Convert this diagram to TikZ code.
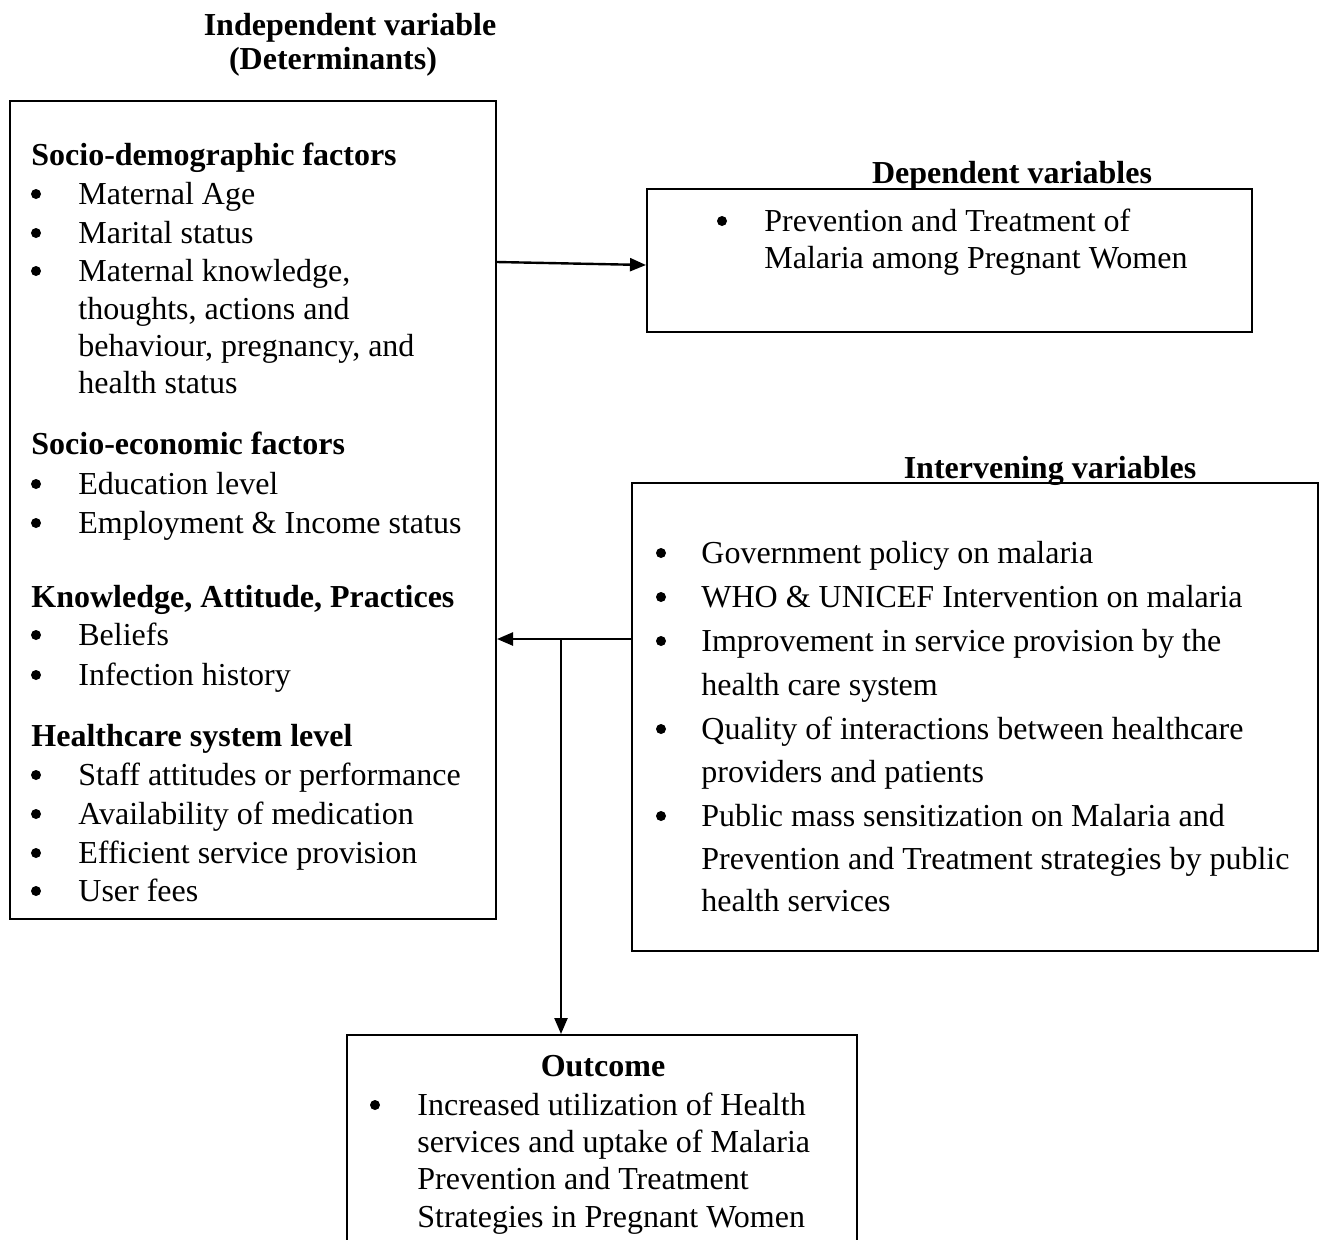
\documentclass[tikz,border=0pt]{standalone}
\usepackage{fontspec}
\setmainfont{Liberation Serif}
\usetikzlibrary{arrows.meta,calc}
\tikzset{
  box/.style={draw, line width=1pt, rectangle, inner sep=0pt},
  txt/.style={anchor=base west, inner sep=0pt, font=\fontsize{16}{19}\selectfont},
  hd/.style={anchor=base west, inner sep=0pt, font=\fontsize{16}{19}\selectfont\bfseries},
  ttl/.style={anchor=base, inner sep=0pt, font=\fontsize{16}{19}\selectfont\bfseries},
  bul/.style={circle, fill=black, inner sep=0pt, minimum size=5pt, yshift=5pt},
  arr/.style={line width=1.2pt, -{Triangle[length=8pt,width=6.5pt]}}
}
\begin{document}
\begin{tikzpicture}[x=0.5pt,y=-0.5pt]
\useasboundingbox (0,0) rectangle (1323,1239);
\clip (0,0) rectangle (1323,1239);
% boxes
\node[box, minimum width=243pt, minimum height=409pt] (L) at (253,510) {};
\node[box, minimum width=302.5pt, minimum height=71.5pt] (D) at (949.5,260.5) {};
\node[box, minimum width=343pt, minimum height=234pt] (I) at (975,717) {};
\node[box, minimum width=255pt, minimum height=115pt] (O) at (602,1150) {};
% titles
\node[ttl] (t1) at (350,35) {Independent variable};
\node[ttl] (t2) at (333,69) {(Determinants)};
\node[ttl] (t3) at (1012,183) {Dependent variables};
\node[ttl] (t4) at (1050,478) {Intervening variables};
% left box
\node[hd] (h1) at (31,165) {Socio-demographic factors};
\node[bul] (b1) at (36,204) {}; \node[txt] (l1) at (78,204) {Maternal Age};
\node[bul] (b2) at (36,243) {}; \node[txt] (l2) at (78,243) {Marital status};
\node[bul] (b3) at (36,281) {}; \node[txt] (l3) at (78,281) {Maternal knowledge,};
\node[txt] (l4) at (78,319) {thoughts, actions and};
\node[txt] (l5) at (78,356) {behaviour, pregnancy, and};
\node[txt] (l6) at (78,393) {health status};
\node[hd] (h2) at (31,454) {Socio-economic factors};
\node[bul] (b4) at (36,494) {}; \node[txt] (l7) at (78,494) {Education level};
\node[bul] (b5) at (36,533) {}; \node[txt] (l8) at (78,533) {Employment \& Income status};
\node[hd] (h3) at (31,607) {Knowledge, Attitude, Practices};
\node[bul] (b6) at (36,645) {}; \node[txt] (l9) at (78,645) {Beliefs};
\node[bul] (b7) at (36,685) {}; \node[txt] (l10) at (78,685) {Infection history};
\node[hd] (h4) at (31,746) {Healthcare system level};
\node[bul] (b8) at (36,785) {}; \node[txt] (l11) at (78,785) {Staff attitudes or performance};
\node[bul] (b9) at (36,824) {}; \node[txt] (l12) at (78,824) {Availability of medication};
\node[bul] (b10) at (36,863) {}; \node[txt] (l13) at (78,863) {Efficient service provision};
\node[bul] (b11) at (36,901) {}; \node[txt] (l14) at (78,901) {User fees};
% dependent box
\node[bul] (db1) at (722,231) {}; \node[txt] (d1) at (764,231) {Prevention and Treatment of};
\node[txt] (d2) at (764,268) {Malaria among Pregnant Women};
% intervening box
\node[bul] (ib1) at (661,563) {}; \node[txt] (i1) at (701,563) {Government policy on malaria};
\node[bul] (ib2) at (661,607) {}; \node[txt] (i2) at (701,607) {WHO \& UNICEF Intervention on malaria};
\node[bul] (ib3) at (661,651) {}; \node[txt] (i3) at (701,651) {Improvement in service provision by the};
\node[txt] (i4) at (701,695) {health care system};
\node[bul] (ib4) at (661,739) {}; \node[txt] (i5) at (701,739) {Quality of interactions between healthcare};
\node[txt] (i6) at (701,782) {providers and patients};
\node[bul] (ib5) at (661,826) {}; \node[txt] (i7) at (701,826) {Public mass sensitization on Malaria and};
\node[txt] (i8) at (701,869) {Prevention and Treatment strategies by public};
\node[txt] (i9) at (701,911) {health services};
% outcome box
\node[ttl] (t5) at (603,1076) {Outcome};
\node[bul] (ob1) at (375,1115) {}; \node[txt] (o1) at (417,1115) {Increased utilization of Health};
\node[txt] (o2) at (417,1152) {services and uptake of Malaria};
\node[txt] (o3) at (417,1189) {Prevention and Treatment};
\node[txt] (o4) at (417,1227) {Strategies in Pregnant Women};
% connectors
\draw[arr] ($(L.north east)+(0,162)$) -- ($(D.north west)+(0,77)$);
\draw[arr] ($(I.north west)+(0,157)$) -- ($(L.north east)+(0,539)$);
\coordinate (j) at ($(L.north east)+(64,539)$);
\draw[arr] (j) -- (j |- O.north);
\end{tikzpicture}
\end{document}
